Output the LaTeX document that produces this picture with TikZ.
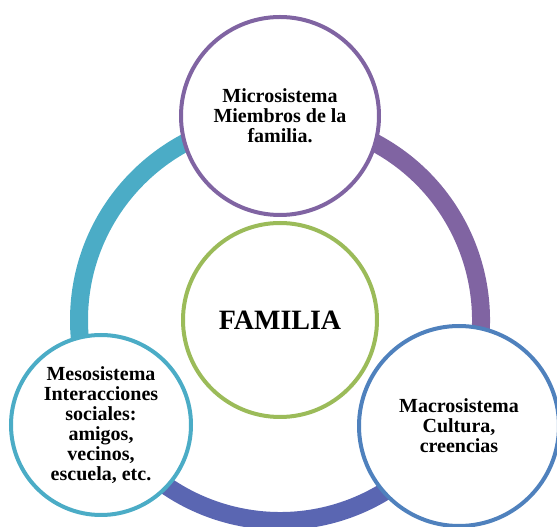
\documentclass[tikz,border=0pt]{standalone}
\usepackage{fontspec}
\setmainfont{Liberation Serif}
\usepackage{tikz}
\usetikzlibrary{positioning}
\definecolor{micro}{HTML}{8064A2}
\definecolor{meso}{HTML}{4BACC6}
\definecolor{macro}{HTML}{4F81BD}
\definecolor{fam}{HTML}{9BBB59}
\definecolor{low}{HTML}{5A66B2}
\tikzset{ring/.style = {line width = 18}}
\tikzset{sys/.style = {circle, draw, line width = 4, fill = white, align = center,
                       inner sep = 0, font = \fontsize{20}{20}\selectfont\bfseries}}
\begin{document}
\begin{tikzpicture}[x = 1pt, y = 1pt]
    \useasboundingbox (0, 0) rectangle (557, 527);
    \coordinate (hub) at (280, 207);

    \draw [ring, meso] (hub) ++(90:201) arc [start angle = 90, end angle = 210, radius = 201];
    \draw [ring, micro] (hub) ++(-30:201) arc [start angle = -30, end angle = 90, radius = 201];
    \draw [ring, low] (hub) ++(210:201) arc [start angle = 210, end angle = 330, radius = 201];

    \node [sys, draw = micro, minimum size = 198] (microsis) at (280, 411)
        {Microsistema\\Miembros de la\\familia.};
    \node [sys, draw = fam, minimum size = 194, font = \fontsize{28}{28}\selectfont\bfseries]
        (familia) at (hub) {FAMILIA};
    \node [sys, draw = meso, minimum size = 180] (mesosis) at (101, 102)
        {Mesosistema\\Interacciones\\sociales:\\amigos,\\vecinos,\\escuela, etc.};
    \node [sys, draw = macro, minimum size = 200] (macrosis) at (459, 101)
        {Macrosistema\\Cultura,\\creencias};
  \end{tikzpicture}
\end{document}
